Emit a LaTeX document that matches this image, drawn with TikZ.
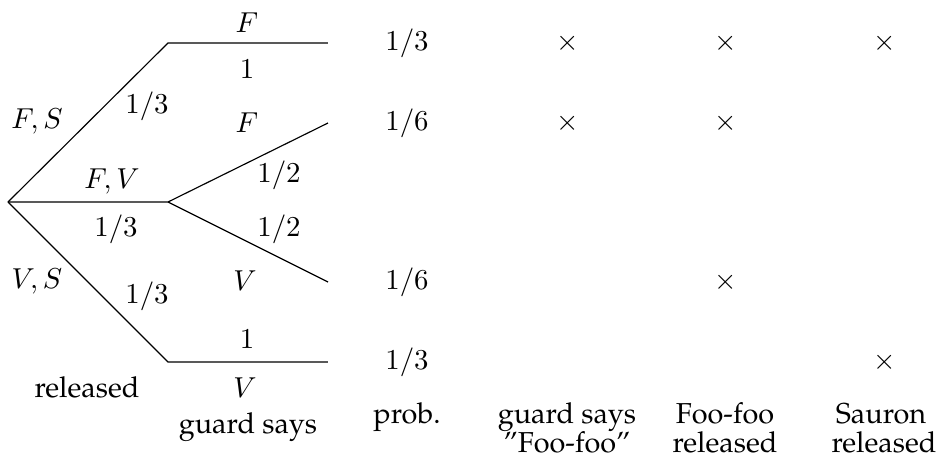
\documentclass[tikz,border=0pt]{standalone}
\usepackage[T1]{fontenc}
\renewcommand{\rmdefault}{ppl}
\usepackage{tikz}
\usetikzlibrary{positioning}
\tikzset{
  lbl/.style={inner sep=0pt, anchor=base},
  branch/.style={line width=0.4pt}
}

\begin{document}
\begin{tikzpicture}[x=0.347pt, y=-0.347pt]
  \useasboundingbox (0,0) rectangle (939,454);

  % Tree points
  \coordinate (root) at (8,202);
  \coordinate (fs) at (168,43);
  \coordinate (fv) at (168,202);
  \coordinate (vs) at (168,362);
  \coordinate (fsF) at (328,43);
  \coordinate (fvF) at (328,123);
  \coordinate (fvV) at (328,282);
  \coordinate (vsV) at (328,362);

  % Draw branches
  \draw[branch] (root) -- (fs) -- (fsF);
  \draw[branch] (root) -- (fv) -- (fvF);
  \draw[branch] (fv) -- (fvV);
  \draw[branch] (root) -- (vs) -- (vsV);

  % Released pairs and their probabilities
  \node[lbl] (lfs) at (37,128) {$F,S$};
  \node[lbl] (pfs) at (147,113) {$1/3$};
  \node[lbl] (lfv) at (112,188) {$F,V$};
  \node[lbl] (pfv) at (116,236) {$1/3$};
  \node[lbl] (lvs) at (37,288) {$V,S$};
  \node[lbl] (pvs) at (147,303) {$1/3$};

  % What the guard says
  \node[lbl] (gfsF) at (247,32) {$F$};
  \node[lbl] (qfsF) at (247,78) {$1$};
  \node[lbl] (gfvF) at (247,132) {$F$};
  \node[lbl] (qfvF) at (279,182) {$1/2$};
  \node[lbl] (qfvV) at (279,236) {$1/2$};
  \node[lbl] (gfvV) at (245,290) {$V$};
  \node[lbl] (qvsV) at (247,348) {$1$};
  \node[lbl] (gvsV) at (245,397) {$V$};

  \node[lbl] (released) at (87,397) {released};
  \node[lbl] (guard) at (248,433) {guard says};

  % Table of outcomes
  \foreach \y/\d [count=\r] in {50/3,130/6,289/6,369/3}
    \node[lbl] (p\r) at (407,\y) {$1/\d$};
  \foreach \x/\y in {568/50,568/130,726/50,726/130,726/289,885/50,885/369}
    \node[lbl] (m-\x-\y) at (\x,\y) {$\times$};

  % Column heads
  \node[lbl] (hprob) at (407,423) {prob.};
  \node[lbl] (hsays) at (567,423) {guard says};
  \node[lbl] (hsays2) at (567,452) {''Foo-foo''};
  \node[lbl] (hfoo) at (725,423) {Foo-foo};
  \node[lbl] (hfoo2) at (725,452) {released};
  \node[lbl] (hsau) at (881,423) {Sauron};
  \node[lbl] (hsau2) at (884,452) {released};
\end{tikzpicture}
\end{document}
